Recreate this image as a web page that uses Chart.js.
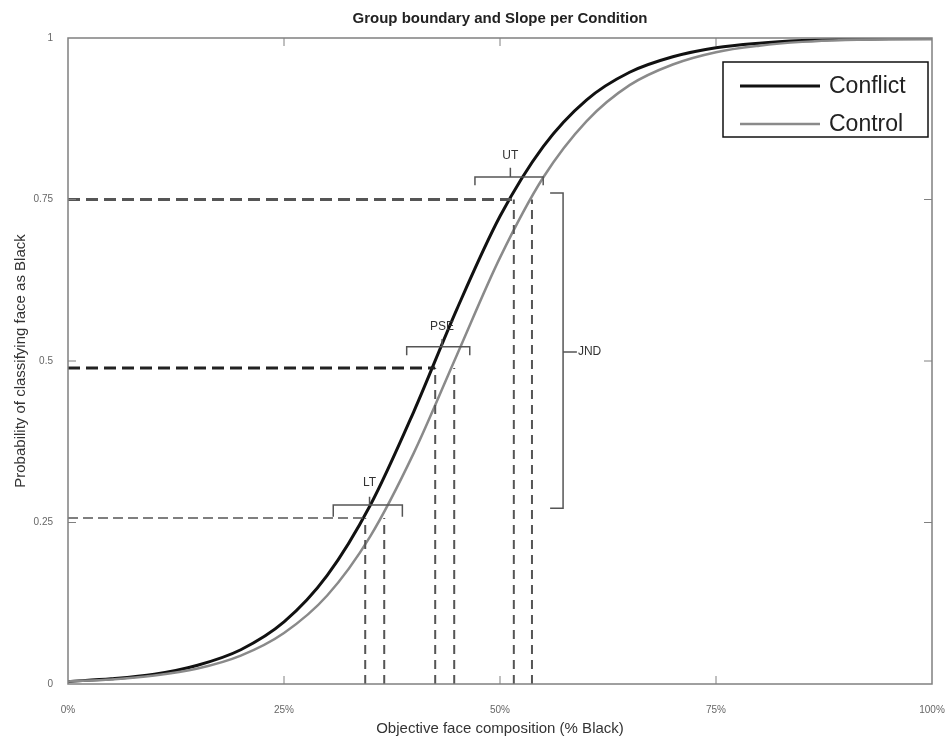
<!DOCTYPE html>
<html>
<head>
<meta charset="utf-8">
<script src="https://cdn.jsdelivr.net/npm/chart.js@4.4.1/dist/chart.umd.min.js"></script>
<style>
  html, body { margin:0; padding:0; background:#fff; }
  #wrap { width:951px; height:740px; position:relative; }
</style>
</head>
<body>
<div id="wrap"><canvas id="c"></canvas></div>
<script>
// % Black (x) and read-off probabilities per condition
const xPct      = [0, 5, 10, 15, 20, 25, 30, 35, 40, 45, 50, 55, 60, 65, 70, 75, 80, 85, 90, 95, 100];
const conflictP = [0.004, 0.008, 0.015, 0.029, 0.053, 0.096, 0.168, 0.277, 0.421, 0.580, 0.724, 0.832, 0.904, 0.947, 0.971, 0.985, 0.992, 0.996, 0.998, 0.999, 0.999];
const controlP  = [0.004, 0.007, 0.013, 0.024, 0.044, 0.079, 0.137, 0.229, 0.357, 0.509, 0.660, 0.784, 0.871, 0.927, 0.959, 0.978, 0.988, 0.994, 0.997, 0.998, 0.999];

const xTicks = [0, 25, 50, 75, 100];
const yTicks = [0, 0.25, 0.5, 0.75, 1];

// LT, PSE, UT
const threshNames    = ['LT', 'PSE', 'UT'];
const threshLevels   = [0.257, 0.489, 0.75];
const conflictThresh = [34.4, 42.5, 51.6];
const controlThresh  = [36.6, 44.7, 53.7];

// horizontal braces above each threshold pair: left, right, centre, low, top, peak
const braceL    = [30.7, 39.2, 47.1];
const braceR    = [38.7, 46.5, 55.0];
const braceC    = [34.9, 43.3, 51.2];
const braceLow  = [0.259, 0.509, 0.772];
const braceTop  = [0.277, 0.522, 0.785];
const bracePeak = [0.290, 0.534, 0.799];
const labelY    = [0.312, 0.553, 0.818];

// vertical JND brace
const jndX = 57.3, jndHook = 55.8, jndTick = 58.9;
const jndTopY = 0.760, jndBotY = 0.272, jndMidY = 0.514;

const FONT = '"Liberation Sans", Arial, sans-serif';

const pts = (xs, ys) => xs.map((x, i) => ({ x, y: ys[i] }));
const seg = (extra) => Object.assign({ type:'scatter', showLine:true, pointRadius:0, pointHoverRadius:0, fill:false }, extra);

const datasets = [];

// dashed guide lines
threshLevels.forEach((lv, i) => {
  const thick = i > 0;
  datasets.push(seg({
    label:'h' + i,
    data: [{ x:0, y:lv }, { x:conflictThresh[i], y:lv }],
    borderColor: i === 1 ? '#222' : '#555',
    borderWidth: thick ? 3 : 1.6,
    borderDash: thick ? [12, 6] : [10, 5]
  }));
  [conflictThresh[i], controlThresh[i]].forEach((tx, j) => {
    datasets.push(seg({
      label:'v' + i + j,
      data: [{ x:tx, y:0 }, { x:tx, y:lv }],
      borderColor: '#555',
      borderWidth: 2,
      borderDash: [9, 6]
    }));
  });
});

// braces
threshNames.forEach((n, i) => {
  datasets.push(seg({
    label:'b' + i,
    data: [
      { x:braceL[i], y:braceLow[i] }, { x:braceL[i], y:braceTop[i] },
      { x:braceC[i], y:braceTop[i] }, { x:braceC[i], y:bracePeak[i] },
      { x:braceC[i], y:braceTop[i] }, { x:braceR[i], y:braceTop[i] },
      { x:braceR[i], y:braceLow[i] }
    ],
    borderColor:'#555', borderWidth:1.5
  }));
});
datasets.push(seg({
  label:'jnd',
  data: [
    { x:jndHook, y:jndTopY }, { x:jndX, y:jndTopY }, { x:jndX, y:jndMidY },
    { x:jndTick, y:jndMidY }, { x:jndX, y:jndMidY }, { x:jndX, y:jndBotY }, { x:jndHook, y:jndBotY }
  ],
  borderColor:'#555', borderWidth:1.5
}));

// curves
datasets.push(seg({ label:'Control',  data: pts(xPct, controlP),  borderColor:'#8a8a8a', borderWidth:2.5, cubicInterpolationMode:'monotone' }));
datasets.push(seg({ label:'Conflict', data: pts(xPct, conflictP), borderColor:'#111',    borderWidth:3,   cubicInterpolationMode:'monotone' }));

const decor = {
  id:'decor',
  afterDraw(chart) {
    const { ctx, chartArea:a, scales:{ x, y } } = chart;
    ctx.save();
    // frame
    ctx.strokeStyle = '#808080';
    ctx.lineWidth = 1.5;
    ctx.strokeRect(a.left, a.top, a.right - a.left, a.bottom - a.top);
    // inside tick marks
    ctx.lineWidth = 1;
    ctx.beginPath();
    xTicks.slice(1, -1).forEach(v => {
      const px = x.getPixelForValue(v);
      ctx.moveTo(px, a.bottom); ctx.lineTo(px, a.bottom - 8);
      ctx.moveTo(px, a.top);    ctx.lineTo(px, a.top + 8);
    });
    yTicks.slice(1, -1).forEach(v => {
      const py = y.getPixelForValue(v);
      ctx.moveTo(a.left, py);  ctx.lineTo(a.left + 8, py);
      ctx.moveTo(a.right, py); ctx.lineTo(a.right - 8, py);
    });
    ctx.stroke();

    // title
    ctx.fillStyle = '#222';
    ctx.font = 'bold 15px ' + FONT;
    ctx.textAlign = 'center';
    ctx.textBaseline = 'middle';
    ctx.fillText('Group boundary and Slope per Condition', (a.left + a.right) / 2, 19);

    // brace labels
    ctx.fillStyle = '#333';
    ctx.font = '12px ' + FONT;
    threshNames.forEach((n, i) => {
      ctx.fillText(n, x.getPixelForValue(braceC[i]), y.getPixelForValue(labelY[i]));
    });
    ctx.textAlign = 'left';
    ctx.fillText('JND', x.getPixelForValue(jndTick) + 1, y.getPixelForValue(jndMidY));

    // legend
    const lx = 723, ly = 62, lw = 205, lh = 75;
    ctx.fillStyle = '#fff';
    ctx.fillRect(lx, ly, lw, lh);
    ctx.strokeStyle = '#111';
    ctx.lineWidth = 1.5;
    ctx.strokeRect(lx, ly, lw, lh);
    [['Conflict', '#111', 3], ['Control', '#8a8a8a', 2.5]].forEach(([t, c, w], i) => {
      const yy = ly + 24 + i * 38;
      ctx.strokeStyle = c; ctx.lineWidth = w;
      ctx.beginPath(); ctx.moveTo(lx + 17, yy); ctx.lineTo(lx + 97, yy); ctx.stroke();
      ctx.fillStyle = '#222';
      ctx.font = '23px ' + FONT;
      ctx.fillText(t, lx + 106, yy + 1);
    });
    ctx.restore();
  }
};

new Chart(document.getElementById('c'), {
  type:'scatter',
  data:{ datasets },
  options:{
    responsive:true, maintainAspectRatio:false, animation:false,
    layout:{ padding:{ top:38, right:19, left:0, bottom:0 } },
    plugins:{ legend:{ display:false }, tooltip:{ enabled:false }, title:{ display:false } },
    scales:{
      x:{
        type:'linear', min:0, max:100,
        afterBuildTicks: s => { s.ticks = xTicks.map(v => ({ value:v })); },
        afterFit: s => { s.height = 56; s.paddingRight = 0; s.paddingLeft = 0; },
        grid:{ display:false }, border:{ display:false },
        ticks:{ font:{ size:10, family:FONT }, color:'#666', padding:12, maxRotation:0, callback: v => v + '%' },
        title:{ display:true, text:'Objective face composition (% Black)', font:{ size:15, family:FONT }, color:'#333', padding:{ top:0, bottom:2 } }
      },
      y:{
        type:'linear', min:0, max:1,
        afterBuildTicks: s => { s.ticks = yTicks.map(v => ({ value:v })); },
        afterFit: s => { s.width = 68; s.paddingTop = 0; s.paddingBottom = 0; },
        grid:{ display:false }, border:{ display:false },
        ticks:{ font:{ size:10, family:FONT }, color:'#666', padding:7, callback: v => String(v) },
        title:{ display:true, text:'Probability of classifying face as Black', font:{ size:15, family:FONT }, color:'#333', padding:{ top:12, bottom:0 } }
      }
    }
  },
  plugins:[decor]
});
</script>
</body>
</html>
